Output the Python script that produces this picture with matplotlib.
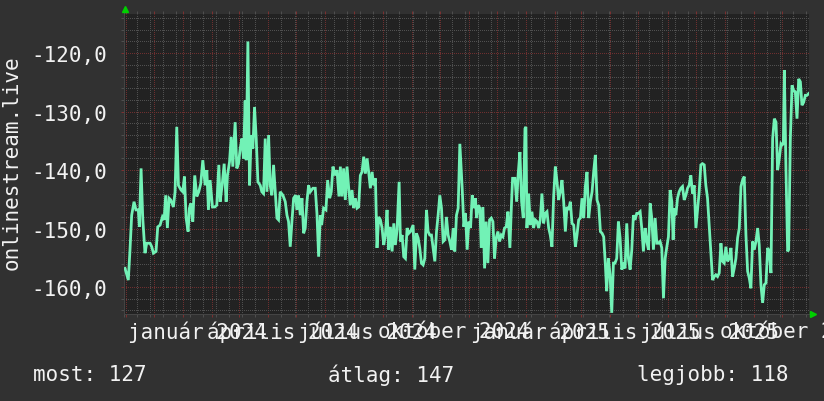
import matplotlib
matplotlib.use("Agg")
import matplotlib.pyplot as plt
import matplotlib.dates as mdates
import matplotlib.ticker as mticker
import matplotlib.transforms as mtransforms
import pandas as pd

plt.rcParams["lines.scale_dashes"] = False

# ---------------- data ----------------
start_date = "2023-10-30"
end_date = "2025-10-30"

# days since start_date for each sample
days = [
    1.1, 4.6, 6.4, 8.2, 10.7, 12.8, 15.3, 16.4, 18.2, 20.0,
    22.4, 24.2, 27.8, 29.6, 31.4, 34.2, 36.0, 38.5, 41.0, 42.8,
    44.5, 46.3, 48.1, 49.9, 52.7, 54.5, 56.3, 58.1, 60.9, 62.7,
    64.5, 66.3, 68.4, 69.8, 71.3, 73.4, 75.5, 77.7, 79.8, 81.9,
    84.1, 86.6, 88.4, 90.1, 91.9, 94.4, 96.9, 99.0, 101.2, 102.6,
    104.7, 106.9, 109.0, 110.4, 112.6, 114.4, 116.1, 118.6, 120.4, 122.2,
    124.0, 125.8, 127.5, 129.3, 130.4, 132.2, 134.0, 135.7, 137.5, 139.3,
    141.1, 142.9, 145.4, 147.1, 148.9, 150.7, 152.5, 154.3, 156.0, 157.8,
    159.6, 161.7, 163.2, 164.9, 166.7, 169.6, 172.1, 173.9, 175.6, 177.4,
    179.2, 181.0, 183.1, 184.5, 186.3, 188.1, 189.9, 191.7, 193.4, 195.2,
    197.0, 198.8, 201.6, 204.1, 205.9, 207.7, 209.5, 210.9, 213.0, 215.5,
    217.3, 219.5, 221.2, 223.0, 225.2, 227.3, 229.4, 230.9, 232.6, 234.4,
    236.2, 238.0, 239.8, 241.5, 243.3, 245.1, 246.9, 248.7, 250.4, 252.2,
    254.0, 255.8, 257.6, 259.4, 261.1, 262.9, 264.7, 266.5, 268.3, 270.0,
    271.8, 273.6, 275.4, 277.2, 278.9, 280.7, 282.5, 284.3, 286.1, 287.9,
    289.6, 291.4, 293.6, 295.0, 296.8, 298.5, 300.3, 302.1, 303.9, 305.7,
    308.5, 310.3, 312.1, 313.9, 315.6, 317.4, 319.2, 321.0, 322.8, 324.5,
    326.3, 328.1, 329.9, 331.7, 333.5, 335.2, 337.0, 338.8, 340.6, 342.4,
    344.1, 345.9, 347.7, 349.5, 351.3, 353.0, 354.8, 356.6, 358.4,
    360.9, 362.7, 364.4, 366.2, 368.0, 369.8, 371.6, 373.4, 375.1, 376.2,
    378.0, 379.8, 381.2, 383.0, 384.8, 386.5, 388.3, 390.1, 391.9, 393.7,
    395.4, 397.2, 399.0, 400.8, 402.6, 404.3, 406.1, 407.9, 409.7, 411.8,
    413.6, 414.7, 417.2, 419.0, 420.7, 422.5, 424.3, 426.1, 427.9, 428.9,
    430.0, 431.8, 433.6, 435.3, 437.1, 438.9, 440.7, 442.5, 444.2, 446.0,
    447.8, 449.6, 451.4, 453.2, 454.9, 456.7, 458.5, 460.3, 462.1, 463.8,
    465.6, 467.4, 469.2, 471.0, 472.7, 474.5, 476.3, 478.1, 479.9, 481.7,
    483.4, 485.2, 487.0, 488.8, 490.6, 492.3, 494.1, 495.9, 497.7, 499.5,
    501.2, 503.0, 504.8, 506.6, 508.4, 510.2, 511.9, 513.7, 515.1, 516.9,
    518.7, 520.5, 522.3, 524.0, 525.8, 527.6, 529.4, 531.2, 533.0, 534.7,
    536.5, 538.3, 540.1, 541.9, 543.6, 545.4, 547.2, 549.0, 550.8, 552.5,
    554.3, 556.1, 557.9, 559.7, 561.5, 563.2, 565.0, 566.8, 568.6, 570.4,
    572.1, 573.9, 575.7, 577.5, 579.3, 581.0, 582.8, 584.6, 586.0, 587.5,
    588.9, 590.7, 592.4, 594.2, 596.0, 597.8, 599.6, 601.4, 603.1, 604.9,
    606.7, 608.5, 610.3, 612.0, 613.8, 615.6, 617.4, 619.2, 620.9, 622.7,
    624.5, 626.3, 628.1, 629.9, 631.6, 633.4, 635.2, 637.0, 638.8, 640.5,
    642.3, 644.1, 645.9, 647.7, 649.4, 651.2, 653.0, 654.8, 656.6, 658.4,
    660.1, 661.9, 663.7, 665.5, 667.3, 669.0, 670.8, 672.6, 674.4, 676.2,
    677.9, 679.7, 681.5, 683.3, 685.1, 686.9, 688.6, 690.4, 692.2, 694.0,
    695.8, 697.5, 699.3, 701.1, 702.2, 703.6, 704.7, 706.4, 708.2, 709.3,
    711.1, 712.9, 714.6, 716.4, 718.2, 720.0, 721.8, 723.5, 725.3, 727.1,
    728.9, 730.7,
]

values = [
    -156.8, -158.8, -153.6, -147.7, -145.4, -146.8, -146.8, -149.7, -139.7, -148.2,
    -154.2, -152.5, -152.5, -153.1, -154.2, -153.9, -149.7, -149.4, -148.0, -148.5,
    -144.3, -149.9, -144.8, -145.1, -146.3, -143.7, -132.6, -142.6, -143.4, -143.7,
    -141.1, -148.2, -150.5, -146.5, -145.7, -148.8, -140.9, -144.5, -143.7, -142.3,
    -138.3, -142.6, -140.0, -146.8, -141.7, -146.3, -146.3, -146.0, -139.1, -145.4,
    -142.6, -138.9, -145.4, -140.9, -138.6, -134.3, -139.4, -131.8, -139.7, -138.9,
    -136.3, -134.6, -138.0, -128.1, -138.3, -118.0, -142.6, -134.0, -136.3, -129.2,
    -134.6, -142.0, -142.6, -143.7, -144.0, -134.6, -143.7, -134.0, -142.6, -144.3,
    -139.1, -144.3, -148.2, -148.5, -143.7, -144.3, -145.4, -147.7, -148.8, -153.1,
    -148.8, -144.8, -144.3, -146.8, -144.3, -147.7, -144.8, -150.8, -149.9, -145.4,
    -142.6, -143.7, -143.1, -143.1, -147.4, -154.8, -147.7, -149.4, -146.5, -146.8,
    -141.7, -144.8, -143.7, -139.4, -140.9, -140.0, -144.5, -139.4, -144.5, -139.7,
    -145.1, -139.4, -143.1, -146.0, -143.4, -146.5, -144.8, -146.5, -146.3, -140.9,
    -140.3, -137.7, -140.6, -138.0, -140.3, -143.1, -140.3, -142.6, -141.4, -153.3,
    -148.0, -148.5, -149.9, -152.8, -151.1, -146.8, -153.6, -149.7, -153.9, -149.1,
    -152.8, -150.2, -142.0, -152.2, -151.1, -154.8, -155.1, -149.9, -150.8, -150.5,
    -149.4, -157.0, -150.8, -151.6, -153.3, -155.9, -156.2, -155.1, -146.8, -150.5,
    -151.1, -151.1, -153.3, -155.6, -150.5, -147.7, -144.3, -146.5, -152.2, -151.9,
    -148.0, -151.1, -152.2, -153.6, -149.9, -153.9, -147.7, -146.5, -135.5,
    -143.1, -149.7, -147.4, -153.6, -148.8, -149.9, -144.3, -146.5, -144.8, -148.2,
    -146.0, -146.5, -153.3, -146.3, -156.8, -148.8, -155.9, -148.5, -148.2, -148.8,
    -155.1, -151.6, -150.5, -152.2, -151.1, -151.4, -149.9, -149.7, -147.1, -153.3,
    -145.4, -141.4, -141.4, -145.4, -140.6, -136.9, -145.4, -148.2, -132.9, -132.6,
    -149.9, -144.0, -149.4, -147.1, -149.9, -148.5, -148.8, -149.9, -148.5, -144.0,
    -149.1, -147.4, -147.1, -149.9, -151.1, -153.1, -144.5, -139.4, -142.0, -145.1,
    -143.7, -141.7, -145.4, -150.5, -146.3, -146.8, -145.4, -149.1, -149.4, -153.1,
    -151.1, -148.5, -148.2, -144.8, -148.2, -142.8, -140.3, -148.2, -145.4, -143.7,
    -140.3, -137.4, -145.1, -146.0, -150.5, -150.8, -151.4, -156.2, -160.7, -155.1,
    -157.9, -164.4, -155.9, -155.9, -155.1, -148.8, -151.6, -157.0, -156.2, -156.8,
    -149.1, -155.1, -157.0, -153.6, -147.7, -148.5, -147.4, -147.4, -147.1, -149.9,
    -153.9, -149.9, -152.2, -153.6, -145.7, -148.2, -153.6, -148.2, -152.5, -152.5,
    -152.2, -153.3, -161.9, -155.1, -153.1, -151.4, -143.4, -145.4, -151.9, -146.5,
    -147.7, -144.8, -143.7, -143.1, -142.8, -145.1, -144.3, -143.1, -142.6, -140.9,
    -144.0, -142.6, -149.9, -146.8, -143.7, -139.1, -138.9, -139.1, -142.6, -144.8,
    -149.4, -153.9, -158.8, -158.2, -157.9, -158.2, -157.6, -152.5, -155.6, -155.9,
    -153.1, -155.6, -155.1, -153.3, -158.2, -156.8, -155.1, -151.6, -149.9, -142.8,
    -141.7, -141.1, -151.1, -157.3, -158.5, -160.2, -152.2, -153.6, -152.2, -149.9,
    -152.8, -159.6, -162.7, -159.6, -159.3, -153.3, -153.9, -157.6, -134.6, -131.2,
    -131.8, -140.0, -138.0, -135.5, -135.7, -135.5, -122.9, -139.7, -153.9, -153.6,
    -134.6, -125.5, -126.4, -126.6, -131.2, -124.4, -124.9, -128.9, -128.4, -127.2,
    -127.2, -126.9,
]

y_ticks = [-120, -130, -140, -150, -160]
y_tick_labels = ["-120,0", "-130,0", "-140,0", "-150,0", "-160,0"]
x_label_months = ["2024-01-01", "2024-04-01", "2024-07-01", "2024-10-01",
                  "2025-01-01", "2025-04-01", "2025-07-01", "2025-10-01"]
x_label_texts = ["január 2024", "április 2024", "július 2024", "október 2024",
                 "január 2025", "április 2025", "július 2025", "október 2025"]
y_axis_title = "onlinestream.live"
stat_names = ["most", "átlag", "legjobb"]
stat_values = [127, 147, 118]

# ---------------- style ----------------
BG = "#313131"
CANVAS = "#222222"
TEXT = "#f2f2f2"
LINE = "#72f2b6"
MINOR = "#505050"
MAJOR = "#6e2f2f"
ARROW = "#00d000"
FONT = "DejaVu Sans Mono"
FS = 15
DOT = (0, (0.72, 1.44))   # 1px on, 2px off

W, H = 824, 402
fig = plt.figure(figsize=(W / 100, H / 100), dpi=100, facecolor=BG)
L, R, T, B = 124, 809, 15, 315
ax = fig.add_axes([L / W, 1 - B / H, (R - L) / W, (B - T) / H])
ax.set_facecolor(CANVAS)

t0 = pd.Timestamp(start_date)
x = t0 + pd.to_timedelta(days, unit="D")
ax.plot(x, values, color=LINE, lw=2.0, zorder=3, solid_joinstyle="miter")

ax.set_xlim(pd.Timestamp(start_date), pd.Timestamp(end_date))
ax.set_ylim(-164.6, -113.3)

# grid
ax.xaxis.set_major_locator(mdates.MonthLocator())
minor_dates = pd.date_range(start_date, end_date, freq="2W-MON")
ax.xaxis.set_minor_locator(mticker.FixedLocator(mdates.date2num(minor_dates)))
ax.yaxis.set_major_locator(mticker.FixedLocator(y_ticks))
ax.yaxis.set_minor_locator(mticker.MultipleLocator(2))
ax.set_yticklabels(y_tick_labels)
ax.xaxis.set_major_formatter(mticker.NullFormatter())

ax.grid(which="minor", color=MINOR, linestyle=DOT, lw=0.72,
        antialiased=False, zorder=1)
ax.grid(which="major", color=MAJOR, linestyle=DOT, lw=0.72,
        antialiased=False, zorder=2)
ax.set_axisbelow(True)

ax.tick_params(axis="both", which="major", direction="out", length=2.2,
               width=0.72, color="#7a3030", top=True, bottom=True)
ax.tick_params(axis="both", which="minor", direction="out", length=2.2,
               width=0.72, color="#4e4e4e", top=True, bottom=True)
ax.tick_params(axis="y", which="major", labelsize=FS, labelcolor=TEXT, pad=10)
for lab in ax.get_yticklabels():
    lab.set_fontfamily(FONT)

for s in ["top", "right"]:
    ax.spines[s].set_visible(False)
for s in ["bottom", "left"]:
    ax.spines[s].set_color("#444444")
    ax.spines[s].set_linewidth(0.72)

# month labels (centered mid-month, like rrdtool)
for m, txt in zip(x_label_months, x_label_texts):
    xd = pd.Timestamp(m) + pd.Timedelta(days=15)
    ax.annotate(txt, xy=(xd, 0), xycoords=("data", "axes fraction"),
                xytext=(0, -5), textcoords="offset points", ha="center",
                va="top", color=TEXT, fontsize=FS, family=FONT,
                annotation_clip=False)

# arrows
up = mtransforms.offset_copy(ax.transAxes, fig=fig, x=1, y=5, units="dots")
ax.plot([0], [1], marker="^", color=ARROW, markersize=5, transform=up,
        clip_on=False, zorder=5)
rt = mtransforms.offset_copy(ax.transAxes, fig=fig, x=4, y=0, units="dots")
ax.plot([1], [0], marker=">", color=ARROW, markersize=5, transform=rt,
        clip_on=False, zorder=5)

# y axis title
fig.text(12 / W, 1 - 163 / H, y_axis_title, rotation=90, ha="center",
         va="center", color=TEXT, fontsize=FS, family=FONT)

# stats line
stat_x = [33, 328, 637]
for sx, n, v in zip(stat_x, stat_names, stat_values):
    fig.text(sx / W, 1 - 375 / H, f"{n}: {v}", ha="left", va="center",
             color=TEXT, fontsize=FS, family=FONT)

fig.savefig("out.png", dpi=100, facecolor=BG)
